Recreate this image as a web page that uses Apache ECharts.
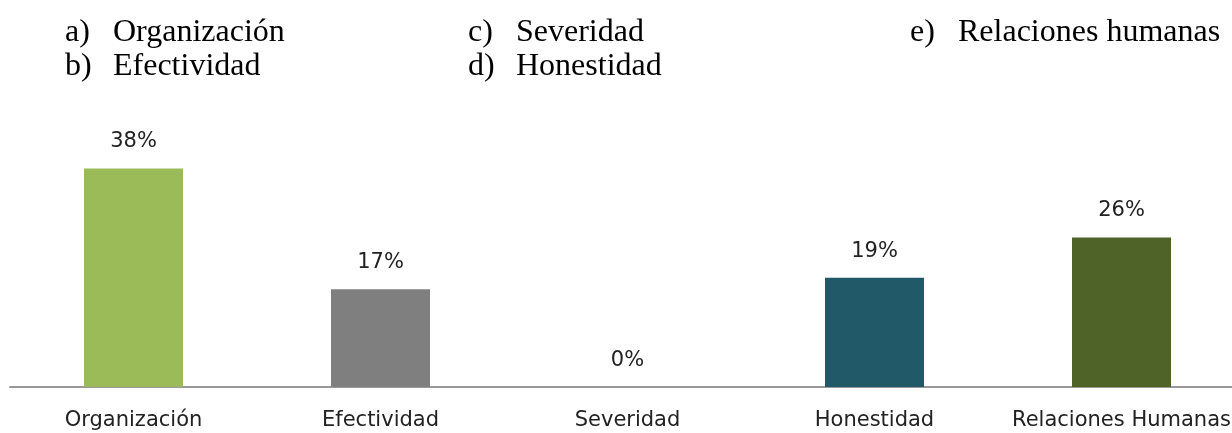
<!DOCTYPE html>
<html>
<head>
    <meta http-equiv="Content-Type" content="text/html; charset=UTF-8">
    <title>Valores</title>
    <script src="https://cdn.jsdelivr.net/npm/echarts@6/dist/echarts.min.js"></script>
    <style>
        html, body { margin: 0; padding: 0; background: #fff; }
    </style>
</head>
<body>
    <div id="main" style="width: 1232px;height:433px;"></div>
    <script type="text/javascript">
        // datos del gráfico
        var categorias = ['Organización', 'Efectividad', 'Severidad', 'Honestidad', 'Relaciones Humanas'];
        var porcentajes = [38, 17, 0, 19, 26];
        var colores = ['#9BBB59', '#7F7F7F', '#4F81BD', '#215968', '#4F6228'];

        // lista de opciones encima del gráfico
        var letras = ['a)', 'b)', 'c)', 'd)', 'e)'];
        var opciones = ['Organización', 'Efectividad', 'Severidad', 'Honestidad', 'Relaciones humanas'];

        var colX = [65, 65, 468, 468, 910];   // columna de cada letra
        var filaY = [46, 80, 46, 80, 46];     // línea base de cada fila

        var textos = [];
        for (var i = 0; i < letras.length; i++) {
            textos.push({
                type: 'text', left: colX[i], top: filaY[i] - 29,
                style: { text: letras[i], font: '32px "Liberation Serif"', fill: '#000' }
            });
            textos.push({
                type: 'text', left: colX[i] + 48, top: filaY[i] - 29,
                style: { text: opciones[i], font: '32px "Liberation Serif"', fill: '#000' }
            });
        }

        var myChart = echarts.init(document.getElementById('main'));
        myChart.setOption({
            animation: false,
            graphic: textos,
            grid: { left: 10, top: 157, width: 1235, height: 230, containLabel: false, outerBoundsMode: 'none' },
            xAxis: {
                type: 'category',
                data: categorias,
                axisTick: { show: false },
                axisLine: { lineStyle: { color: '#999', width: 2 } },
                axisLabel: {
                    interval: 0,
                    margin: 23,
                    fontFamily: 'DejaVu Sans',
                    fontSize: 21,
                    color: '#222'
                }
            },
            yAxis: {
                type: 'value', min: 0, max: 40, show: false,
                splitLine: { show: false }
            },
            series: [{
                type: 'bar',
                barWidth: 99,
                data: porcentajes.map(function (v, i) {
                    return { value: v, itemStyle: { color: colores[i] } };
                }),
                label: {
                    show: true,
                    position: 'top',
                    distance: 16,
                    formatter: '{c}%',
                    fontFamily: 'DejaVu Sans',
                    fontSize: 21,
                    color: '#222'
                }
            }]
        });
    </script>
</body>
</html>
